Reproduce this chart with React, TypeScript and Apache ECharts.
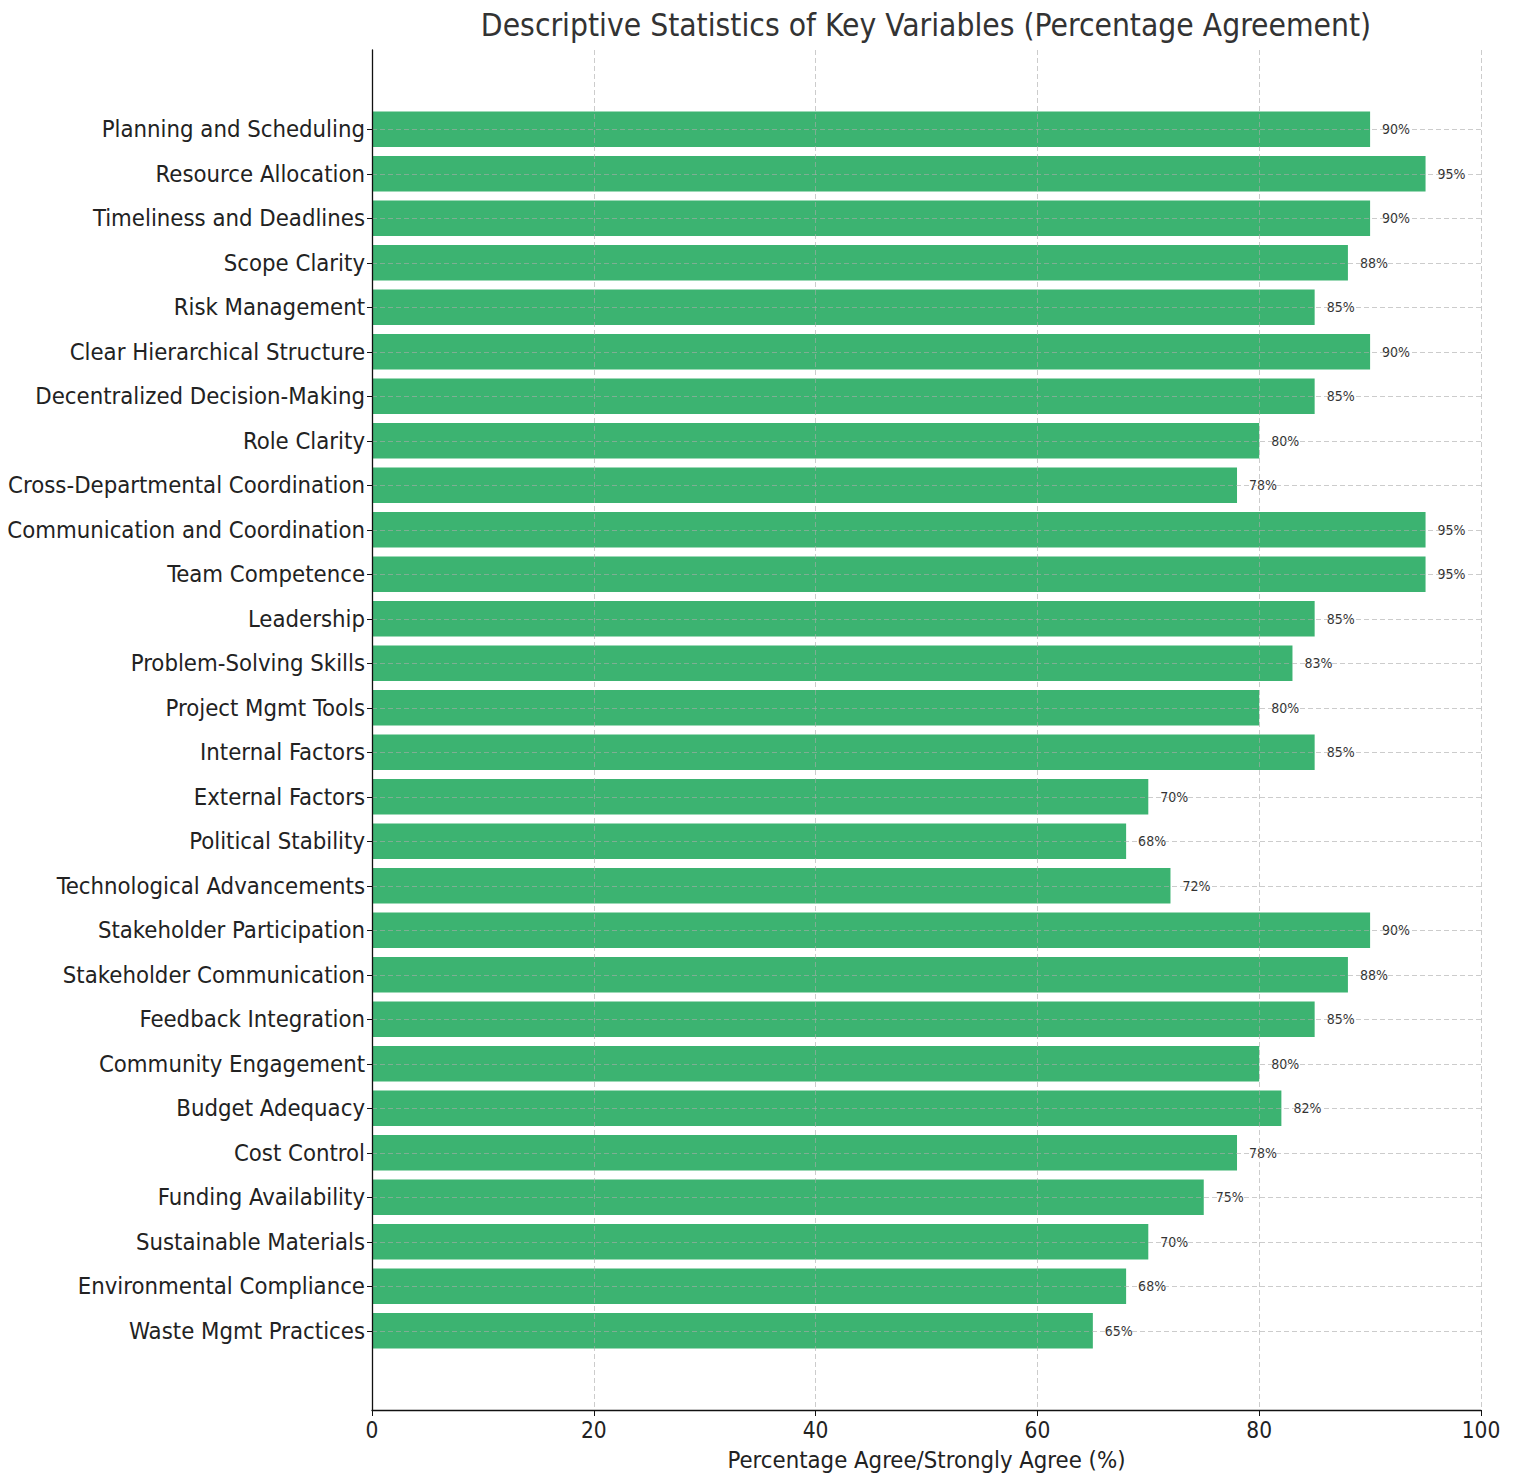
import React, { useEffect, useRef } from "react";
import * as echarts from "echarts";

const categories = [
  "Planning and Scheduling",
  "Resource Allocation",
  "Timeliness and Deadlines",
  "Scope Clarity",
  "Risk Management",
  "Clear Hierarchical Structure",
  "Decentralized Decision-Making",
  "Role Clarity",
  "Cross-Departmental Coordination",
  "Communication and Coordination",
  "Team Competence",
  "Leadership",
  "Problem-Solving Skills",
  "Project Mgmt Tools",
  "Internal Factors",
  "External Factors",
  "Political Stability",
  "Technological Advancements",
  "Stakeholder Participation",
  "Stakeholder Communication",
  "Feedback Integration",
  "Community Engagement",
  "Budget Adequacy",
  "Cost Control",
  "Funding Availability",
  "Sustainable Materials",
  "Environmental Compliance",
  "Waste Mgmt Practices",
];

const agreeValues = [
  90, 95, 90, 88, 85, 90, 85, 80, 78, 95, 95, 85, 83, 80, 85, 70, 68, 72, 90,
  88, 85, 80, 82, 78, 75, 70, 68, 65,
];

const xTicks = [0, 20, 40, 60, 80, 100];

const TITLE = "Descriptive Statistics of Key Variables (Percentage Agreement)";
const X_NAME = "Percentage Agree/Strongly Agree (%)";

const FONT = "'DejaVu Sans Condensed', 'DejaVu Sans', sans-serif";

export default function App() {
  const ref = useRef<HTMLDivElement>(null);

  useEffect(() => {
    if (!ref.current) return;
    const chart = echarts.init(ref.current, null, { renderer: "svg" });
    const gridColor = "rgba(170,170,170,0.6)";
    const option: any = {
      animation: false,
      backgroundColor: "#ffffff",
      textStyle: { fontFamily: FONT },
      title: {
        text: TITLE,
        left: 913,
        textAlign: "center",
        top: -4,
        textStyle: {
          fontFamily: FONT,
          fontSize: 31.5,
          fontWeight: "normal",
          color: "#333333",
        },
      },
      grid: [
        {
          left: 364,
          top: 42,
          width: 1109,
          height: 1360,
          containLabel: false,
          outerBoundsMode: "none",
        },
        {
          left: 364,
          top: 99,
          width: 1109,
          height: 1246,
          containLabel: false,
          outerBoundsMode: "none",
        },
      ],
      xAxis: [
        {
          gridIndex: 0,
          type: "value",
          min: 0,
          max: 100,
          interval: 20,
          z: 5,
          axisLine: { show: true, lineStyle: { color: "#111", width: 1.3 } },
          axisTick: { show: true, length: 6, lineStyle: { color: "#111" } },
          axisLabel: {
            fontFamily: FONT,
            fontSize: 22.5,
            color: "#222",
            margin: 8,
            formatter: (v: number) => (xTicks.includes(v) ? String(v) : ""),
          },
          splitLine: {
            show: true,
            lineStyle: { color: gridColor, type: [5, 3], width: 1 },
          },
          name: X_NAME,
          nameLocation: "middle",
          nameGap: 38,
          nameTextStyle: { fontFamily: FONT, fontSize: 23.7, color: "#222" },
        },
        {
          gridIndex: 1,
          type: "value",
          min: 0,
          max: 100,
          show: false,
        },
      ],
      yAxis: [
        {
          gridIndex: 0,
          type: "value",
          min: 0,
          max: 1,
          z: 6,
          axisLine: { show: true, lineStyle: { color: "#111", width: 1.3 } },
          axisTick: { show: false },
          axisLabel: { show: false },
          splitLine: { show: false },
        },
        {
          gridIndex: 1,
          type: "category",
          data: categories,
          inverse: true,
          z: 5,
          axisLine: { show: false },
          axisTick: {
            show: true,
            alignWithLabel: true,
            length: 5,
            lineStyle: { color: "#111" },
          },
          axisLabel: {
            fontFamily: FONT,
            fontSize: 23.7,
            color: "#222",
            margin: 7,
          },
          splitLine: { show: false },
        },
      ],
      series: [
        {
          type: "bar",
          xAxisIndex: 1,
          yAxisIndex: 1,
          data: agreeValues,
          barWidth: "80%",
          itemStyle: { color: "#3cb371" },
          label: {
            show: true,
            position: "right",
            distance: 12,
            fontFamily: FONT,
            fontSize: 14,
            color: "#333",
            formatter: "{c}%",
          },
          markLine: {
            silent: true,
            symbol: "none",
            label: { show: false },
            lineStyle: { color: gridColor, type: [5, 3], width: 1 },
            z: 5,
            data: categories.map((c) => ({ yAxis: c })),
          },
        },
      ],
    };
    chart.setOption(option);
    return () => chart.dispose();
  }, []);

  return <div ref={ref} style={{ width: 1503, height: 1470 }} />;
}
